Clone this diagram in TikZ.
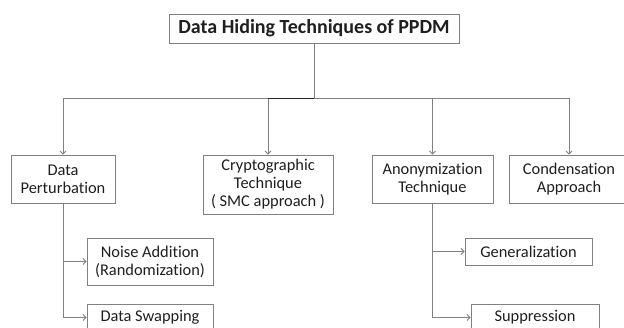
\documentclass[tikz,border=0pt]{standalone}
\usepackage{fontspec}
\setmainfont{Carlito}[Ligatures={NoCommon,NoContextual,NoRare},Contextuals=NoAlternate]
\usetikzlibrary{arrows.meta}
\definecolor{linegray}{HTML}{808080}
\definecolor{txt}{HTML}{1F1F1F}
\newcommand\tiX{t\kern0pt i}
\begin{document}
\begin{tikzpicture}[x=1pt,y=-1pt,
  box/.style={draw=linegray,line width=0.9pt,fill=white,inner sep=0pt,align=center,text=txt,
    font=\fontsize{16.4}{18}\selectfont},
  conn/.style={draw=linegray,line width=0.9pt},
  arr/.style={conn,-{Straight Barb[length=3pt,width=6pt]}}]
\clip (0,0) rectangle (624,327);
\fill[white] (0,0) rectangle (624,327);
% title
\node[box,minimum width=290pt,minimum height=29pt,font=\bfseries\fontsize{20}{22}\selectfont] (title) at (314,28.5) {Data Hiding Techniques of PPDM};
% level 1
\node[box,minimum width=104pt,minimum height=48pt] (dp) at (63,179) {Data\\Perturba\tiX on};
\node[box,minimum width=130pt,minimum height=59pt] (cr) at (268,184.5) {Cryptographic\\Technique\\( SMC approach )};
\node[box,minimum width=121pt,minimum height=48pt] (an) at (432.5,179) {Anonymiza\tiX on\\Technique};
\node[box,minimum width=120pt,minimum height=48pt] (co) at (569,179) {Condensa\tiX on\\Approach};
% level 2
\node[box,minimum width=126pt,minimum height=47pt] (na) at (150,261.5) {Noise Addi\tiX on\\(Randomiza\tiX on)};
\node[box,minimum width=126pt,minimum height=27pt] (ds) at (150,317.5) {Data Swapping};
\node[box,minimum width=127pt,minimum height=27pt] (ge) at (528.5,251.5) {Generaliza\tiX on};
\node[box,minimum width=128pt,minimum height=27pt] (su) at (535,317.5) {Suppression};
% connectors from title
\coordinate (bus) at (314,98);
\draw[conn] (title.south) -- (bus);
\draw[arr] (bus) -| (dp.north);
\draw[arr] (bus) -| (cr.north);
\draw[arr] (bus) -| (an.north);
\draw[arr] (bus) -| (co.north);
\draw[line width=0.9pt,draw=black!85] (bus) -- (bus -| cr.north);
% sub-branches
\draw[arr] (dp.south) |- (na.west);
\draw[arr] (dp.south) |- (ds.west);
\draw[arr] (an.south) |- (ge.west);
\draw[arr] (an.south) |- (su.west);
\end{tikzpicture}
\end{document}
